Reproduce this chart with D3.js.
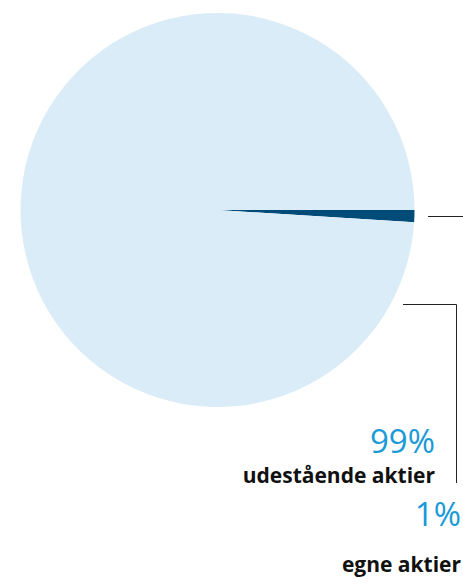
<!DOCTYPE html>
<html>
<head>
<meta charset="utf-8">
<script src="https://cdn.jsdelivr.net/npm/d3@7"></script>
<style>
  body { margin: 0; background: #fff; }
  text { font-family: "Open Sans", sans-serif; }
</style>
</head>
<body>
<div id="chart"></div>
<script>
// data
var labels = ["egne aktier", "udestående aktier"];
var shares = [1, 99];
var colors = ["#004b78", "#daecf7"];

var width = 463, height = 584;
var cx = 217.5, cy = 210, radius = 197;

var svg = d3.select("#chart")
  .append("svg")
    .attr("width", width)
    .attr("height", height);

var pie = d3.pie()
    .sort(null)
    .value(function(d) { return d; })
    .startAngle(Math.PI / 2)
    .endAngle(Math.PI / 2 + 2 * Math.PI);

var arc = d3.arc().innerRadius(0).outerRadius(radius);

var g = svg.append("g")
    .attr("transform", "translate(" + cx + "," + cy + ")");

g.selectAll("path")
  .data(pie(shares))
  .enter()
  .append("path")
    .attr("d", arc)
    .style("fill", function(d, i) { return colors[i]; });

// leader lines
svg.append("path")
    .attr("d", "M428,216.5H463")
    .attr("fill", "none")
    .attr("stroke", "#222")
    .attr("stroke-width", 1);

svg.append("path")
    .attr("d", "M403,304.5H456.5V483")
    .attr("fill", "none")
    .attr("stroke", "#222")
    .attr("stroke-width", 1);

// labels
var labelPos = [
  {x: 461, pct: 526, name: 572},
  {x: 435, pct: 453, name: 483}
];

labels.forEach(function(name, i) {
  svg.append("text")
      .attr("x", labelPos[i].x)
      .attr("y", labelPos[i].pct)
      .attr("text-anchor", "end")
      .style("font-size", "33px")
      .style("font-weight", 400)
      .style("fill", "#1a9ad6")
      .text(shares[i] + "%");
  svg.append("text")
      .attr("x", labelPos[i].x)
      .attr("y", labelPos[i].name)
      .attr("text-anchor", "end")
      .style("font-size", "21px")
      .style("font-weight", 700)
      .style("fill", "#111")
      .text(name);
});
</script>
</body>
</html>
